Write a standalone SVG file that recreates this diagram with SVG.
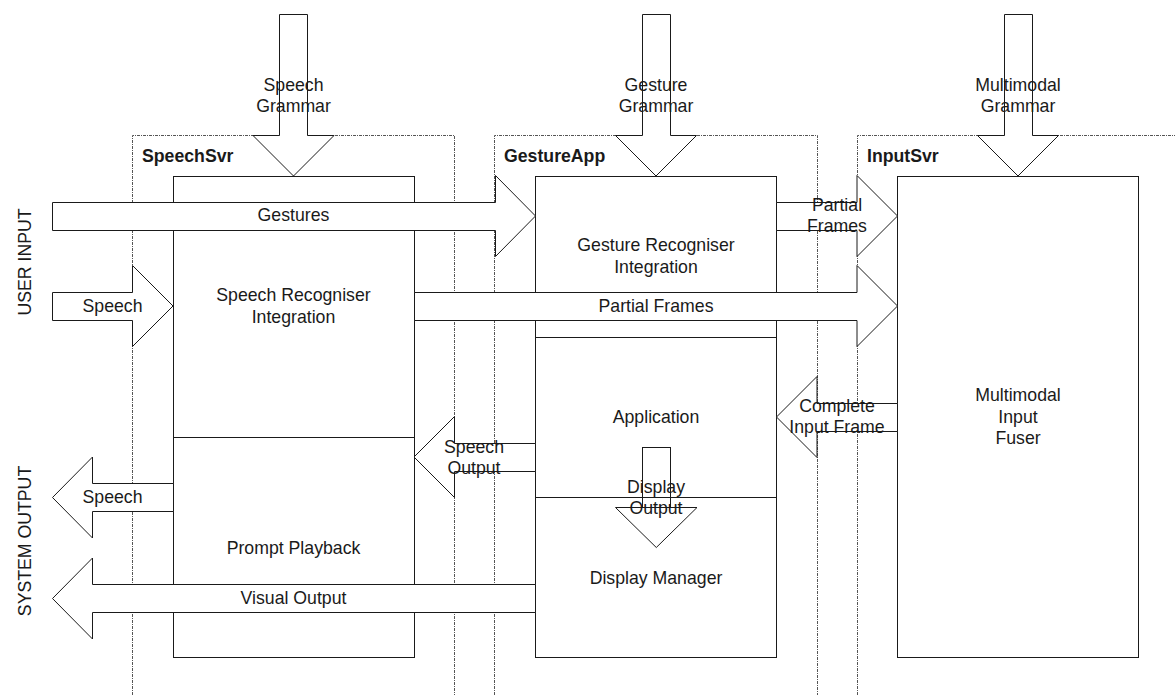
<svg xmlns="http://www.w3.org/2000/svg" width="1175" height="695" viewBox="0 0 1175 695">
  <style>
    .bg { fill: #ffffff; }
    .frame { fill: none; stroke: #555555; stroke-width: 1; stroke-dasharray: 3 1 1 1; }
    .box { fill: #ffffff; stroke: #1a1a1a; stroke-width: 1; }
    .div { fill: none; stroke: #1a1a1a; stroke-width: 1; }
    .arrow { fill: #ffffff; stroke: #1a1a1a; stroke-width: 1; stroke-linejoin: miter; }
    .open { fill: none; stroke: #1a1a1a; stroke-width: 1; }
    text { font-family: "Liberation Sans", Arial, sans-serif; font-size: 17.7px; fill: #1a1a1a; text-anchor: middle; }
    .title { font-weight: bold; text-anchor: start; }
    .side { font-size: 17.7px; }
  </style>

  <rect class="bg" x="0" y="0" width="1175" height="695"/>

  <!-- process boundaries -->
  <g id="speechsvr">
    <path class="frame" d="M132.5,695 V135.5 H454.5 V695"/>
    <text class="title" x="142" y="162">SpeechSvr</text>
  </g>
  <g id="gestureapp">
    <path class="frame" d="M494.5,695 V135.5 H817.5 V695"/>
    <text class="title" x="504" y="162">GestureApp</text>
  </g>
  <g id="inputsvr">
    <path class="frame" d="M857.5,695 V135.5 H1175"/>
    <text class="title" x="867" y="162">InputSvr</text>
  </g>

  <!-- components -->
  <g id="speech-recogniser">
    <rect class="box" x="173.5" y="176.5" width="241" height="481"/>
    <line class="div" x1="173.5" y1="437.5" x2="414.5" y2="437.5"/>
  </g>
  <g id="gesture-app-box">
    <rect class="box" x="535.5" y="176.5" width="241" height="481"/>
    <line class="div" x1="535.5" y1="337.5" x2="776.5" y2="337.5"/>
    <line class="div" x1="535.5" y1="497.5" x2="776.5" y2="497.5"/>
  </g>
  <g id="input-fuser">
    <rect class="box" x="897.5" y="176.5" width="241" height="481"/>
  </g>

  <!-- block-arrow connectors -->
  <g id="connectors">
    <!-- grammars (downward) -->
    <polygon class="arrow" points="279.5,14.5 307.5,14.5 307.5,135.5 334,135.5 293.5,176 253,135.5 279.5,135.5"/>
    <polygon class="arrow" points="642.5,14.5 670.5,14.5 670.5,135.5 696.5,135.5 656,176 615.5,135.5 642.5,135.5"/>
    <polygon class="arrow" points="1004.5,14.5 1032.5,14.5 1032.5,135.5 1058.5,135.5 1018,176 977.5,135.5 1004.5,135.5"/>

    <!-- user input (rightward) -->
    <polygon class="arrow" points="52.5,202.5 495.5,202.5 495.5,175.5 535.5,216 495.5,256.5 495.5,230.5 52.5,230.5"/>
    <polygon class="arrow" points="52.5,292.5 132.5,292.5 132.5,265.5 173,306 132.5,346.5 132.5,320.5 52.5,320.5"/>

    <!-- partial frames (rightward) -->
    <polygon class="arrow" points="414.5,292.5 857,292.5 857,265.5 897.5,306 857,346.5 857,320.5 414.5,320.5"/>
    <polygon class="arrow" points="776.5,202.5 857,202.5 857,175.5 897.5,216 857,256.5 857,230.5 776.5,230.5"/>

    <!-- complete input frame (leftward) -->
    <polygon class="arrow" points="897.5,403.5 817,403.5 817,376.5 776.5,417 817,457.5 817,431.5 897.5,431.5"/>

    <!-- speech output (leftward) -->
    <polygon class="arrow" points="535.5,443.5 454.5,443.5 454.5,416.5 414,457 454.5,497.5 454.5,471.5 535.5,471.5"/>

    <!-- system output (leftward) -->
    <polygon class="arrow" points="173.5,483.5 92.5,483.5 92.5,457 52.5,497.5 92.5,538 92.5,511.5 173.5,511.5"/>
    <polygon class="arrow" points="535.5,584.5 92.5,584.5 92.5,558 52.5,598.5 92.5,639 92.5,612.5 535.5,612.5"/>

    <!-- display output (downward, outline only) -->
    <rect class="open" x="642.5" y="447.5" width="28" height="60"/>
    <polygon class="open" points="615.5,507.5 697,507.5 656.3,547.5"/>
  </g>

  <!-- labels -->
  <g id="labels">
    <text x="293.5" y="91">Speech</text>
    <text x="293.5" y="112">Grammar</text>
    <text x="656" y="91">Gesture</text>
    <text x="656" y="112">Grammar</text>
    <text x="1018" y="91">Multimodal</text>
    <text x="1018" y="112">Grammar</text>

    <text x="293.5" y="221">Gestures</text>
    <text x="112.5" y="312">Speech</text>

    <text x="293.5" y="301">Speech Recogniser</text>
    <text x="293.5" y="322.5">Integration</text>

    <text x="656" y="251">Gesture Recogniser</text>
    <text x="656" y="272.5">Integration</text>

    <text x="656" y="312">Partial Frames</text>
    <text x="837" y="211">Partial</text>
    <text x="837" y="232">Frames</text>

    <text x="656" y="423">Application</text>
    <text x="837" y="412">Complete</text>
    <text x="837" y="433">Input Frame</text>

    <text x="1018" y="401">Multimodal</text>
    <text x="1018" y="422.5">Input</text>
    <text x="1018" y="443.5">Fuser</text>

    <text x="474" y="453">Speech</text>
    <text x="474" y="474">Output</text>

    <text x="656" y="493">Display</text>
    <text x="656" y="514">Output</text>

    <text x="112.5" y="503">Speech</text>
    <text x="293.5" y="554">Prompt Playback</text>
    <text x="293.5" y="604">Visual Output</text>
    <text x="656" y="584">Display Manager</text>

    <text class="side" x="31" y="262" transform="rotate(-90 31 262)" dy="0" style="dominant-baseline:alphabetic" text-anchor="middle">USER INPUT</text>
    <text class="side" x="31" y="541" transform="rotate(-90 31 541)" text-anchor="middle">SYSTEM OUTPUT</text>
  </g>
</svg>
